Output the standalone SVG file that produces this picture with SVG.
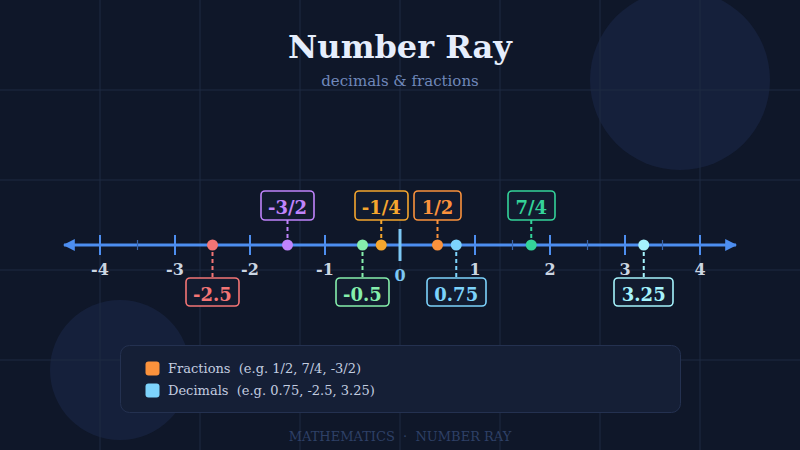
<svg xmlns="http://www.w3.org/2000/svg" width="800" height="450" viewBox="0 0 800 450">
<defs>
<style>
.grid{stroke:#1e2a43;stroke-width:1}
.axis{stroke:#4d8ef0;stroke-width:3}
.major{stroke:#4d8ef0;stroke-width:2}
.minor{stroke:#3a64a8;stroke-width:1.2}
.tl{font-family:"DejaVu Serif",serif;font-weight:bold;font-size:16px;fill:#cbd5e1;text-anchor:middle}
.box{fill:#121b2f;stroke-width:1.6}
.bl{font-family:"DejaVu Serif",serif;font-weight:bold;font-size:18px;text-anchor:middle}
.dash{stroke-width:2;stroke-dasharray:4 3}
.leg{font-family:"DejaVu Serif",serif;font-size:13px;fill:#c3cde0}
</style>
<marker id="ah" viewBox="0 0 10 10" refX="9" refY="5" markerWidth="4" markerHeight="4" orient="auto-start-reverse">
<path d="M0,0 L10,5 L0,10 z" fill="#4d8ef0"/>
</marker>
</defs>
<rect width="800" height="450" fill="#0f1729"/>
<circle cx="680" cy="80" r="90" fill="#16213d" opacity="0.9"/>
<circle cx="120" cy="370" r="70" fill="#16213d" opacity="0.9"/>
<g id="grid">
<line class="grid" x1="100" y1="0" x2="100" y2="450"/>
<line class="grid" x1="200" y1="0" x2="200" y2="450"/>
<line class="grid" x1="300" y1="0" x2="300" y2="450"/>
<line class="grid" x1="400" y1="0" x2="400" y2="450"/>
<line class="grid" x1="500" y1="0" x2="500" y2="450"/>
<line class="grid" x1="600" y1="0" x2="600" y2="450"/>
<line class="grid" x1="700" y1="0" x2="700" y2="450"/>
<line class="grid" x1="0" y1="90" x2="800" y2="90"/>
<line class="grid" x1="0" y1="180" x2="800" y2="180"/>
<line class="grid" x1="0" y1="270" x2="800" y2="270"/>
<line class="grid" x1="0" y1="360" x2="800" y2="360"/>
</g>
<g id="title">
<text x="400" y="58" text-anchor="middle" font-family="DejaVu Serif,serif" font-weight="bold" font-size="32" fill="#e6eefc">Number Ray</text>
<text x="400" y="86" text-anchor="middle" font-family="DejaVu Serif,serif" font-size="15" fill="#7088ba">decimals &amp; fractions</text>
</g>
<g id="axis">
<line class="axis" x1="64" y1="245" x2="736" y2="245" marker-start="url(#ah)" marker-end="url(#ah)"/>
<g id="minor-ticks">
<line class="minor" x1="137.5" y1="240" x2="137.5" y2="250"/>
<line class="minor" x1="212.5" y1="240" x2="212.5" y2="250"/>
<line class="minor" x1="287.5" y1="240" x2="287.5" y2="250"/>
<line class="minor" x1="362.5" y1="240" x2="362.5" y2="250"/>
<line class="minor" x1="437.5" y1="240" x2="437.5" y2="250"/>
<line class="minor" x1="512.5" y1="240" x2="512.5" y2="250"/>
<line class="minor" x1="587.5" y1="240" x2="587.5" y2="250"/>
<line class="minor" x1="662.5" y1="240" x2="662.5" y2="250"/>
</g>
<g id="major-ticks">
<line class="major" x1="100" y1="235" x2="100" y2="255"/>
<line class="major" x1="175" y1="235" x2="175" y2="255"/>
<line class="major" x1="250" y1="235" x2="250" y2="255"/>
<line class="major" x1="325" y1="235" x2="325" y2="255"/>
<line class="major" x1="475" y1="235" x2="475" y2="255"/>
<line class="major" x1="550" y1="235" x2="550" y2="255"/>
<line class="major" x1="625" y1="235" x2="625" y2="255"/>
<line class="major" x1="700" y1="235" x2="700" y2="255"/>
<line x1="400" y1="229" x2="400" y2="261" stroke="#7dc8f5" stroke-width="3"/>
</g>
<g id="tick-labels">
<text class="tl" x="100" y="275">-4</text>
<text class="tl" x="175" y="275">-3</text>
<text class="tl" x="250" y="275">-2</text>
<text class="tl" x="325" y="275">-1</text>
<text class="tl" x="400" y="281" style="fill:#7dc8f5">0</text>
<text class="tl" x="475" y="275">1</text>
<text class="tl" x="550" y="275">2</text>
<text class="tl" x="625" y="275">3</text>
<text class="tl" x="700" y="275">4</text>
</g>
</g>
<g id="connectors">
<line class="dash" x1="212.5" y1="245" x2="212.5" y2="278" stroke="#f47575"/>
<line class="dash" x1="287.5" y1="220" x2="287.5" y2="245" stroke="#c084fc"/>
<line class="dash" x1="362.5" y1="245" x2="362.5" y2="278" stroke="#86efac"/>
<line class="dash" x1="381.25" y1="220" x2="381.25" y2="245" stroke="#f5a62e"/>
<line class="dash" x1="437.5" y1="220" x2="437.5" y2="245" stroke="#fb923c"/>
<line class="dash" x1="456.25" y1="245" x2="456.25" y2="278" stroke="#7dd3fc"/>
<line class="dash" x1="531.25" y1="220" x2="531.25" y2="245" stroke="#34d399"/>
<line class="dash" x1="643.75" y1="245" x2="643.75" y2="278" stroke="#a5f3fc"/>
</g>
<g id="p-m2_5">
<circle cx="212.5" cy="245" r="5.5" fill="#f47575"/>
<rect class="box" x="186" y="278" width="53" height="28" rx="4" stroke="#f47575"/>
<text class="bl" x="212.5" y="301" fill="#f47575">-2.5</text>
</g>
<g id="p-m3_2">
<circle cx="287.5" cy="245" r="5.5" fill="#c084fc"/>
<rect class="box" x="261" y="191" width="53" height="29" rx="4" stroke="#c084fc"/>
<text class="bl" x="287.5" y="214" fill="#c084fc">-3/2</text>
</g>
<g id="p-m0_5">
<circle cx="362.5" cy="245" r="5.5" fill="#86efac"/>
<rect class="box" x="336" y="278" width="53" height="28" rx="4" stroke="#86efac"/>
<text class="bl" x="362.5" y="301" fill="#86efac">-0.5</text>
</g>
<g id="p-m1_4">
<circle cx="381.25" cy="245" r="5.5" fill="#f5a62e"/>
<rect class="box" x="355" y="191" width="53" height="29" rx="4" stroke="#f5a62e"/>
<text class="bl" x="381.25" y="214" fill="#f5a62e">-1/4</text>
</g>
<g id="p-1_2">
<circle cx="437.5" cy="245" r="5.5" fill="#fb923c"/>
<rect class="box" x="414" y="191" width="47" height="29" rx="4" stroke="#fb923c"/>
<text class="bl" x="437.5" y="214" fill="#fb923c">1/2</text>
</g>
<g id="p-0_75">
<circle cx="456.25" cy="245" r="5.5" fill="#7dd3fc"/>
<rect class="box" x="427" y="278" width="59" height="28" rx="4" stroke="#7dd3fc"/>
<text class="bl" x="456.25" y="301" fill="#7dd3fc">0.75</text>
</g>
<g id="p-7_4">
<circle cx="531.25" cy="245" r="5.5" fill="#34d399"/>
<rect class="box" x="508" y="191" width="47" height="29" rx="4" stroke="#34d399"/>
<text class="bl" x="531.25" y="214" fill="#34d399">7/4</text>
</g>
<g id="p-3_25">
<circle cx="643.75" cy="245" r="5.5" fill="#a5f3fc"/>
<rect class="box" x="614" y="278" width="59" height="28" rx="4" stroke="#a5f3fc"/>
<text class="bl" x="643.75" y="301" fill="#a5f3fc">3.25</text>
</g>
<g id="legend">
<rect x="120.5" y="345.5" width="560" height="67" rx="9" fill="#151f36" stroke="#243150" stroke-width="1"/>
<rect x="145.5" y="361.5" width="14" height="14" rx="3" fill="#fb923c"/>
<text class="leg" x="168" y="373" xml:space="preserve">Fractions  (e.g. 1/2, 7/4, -3/2)</text>
<rect x="145.5" y="383.5" width="14" height="14" rx="3" fill="#7dd3fc"/>
<text class="leg" x="168" y="395" xml:space="preserve">Decimals  (e.g. 0.75, -2.5, 3.25)</text>
</g>
<text x="400" y="441" text-anchor="middle" font-family="DejaVu Serif,serif" font-size="13" fill="#2e4066" xml:space="preserve">MATHEMATICS  ·  NUMBER RAY</text>
</svg>
